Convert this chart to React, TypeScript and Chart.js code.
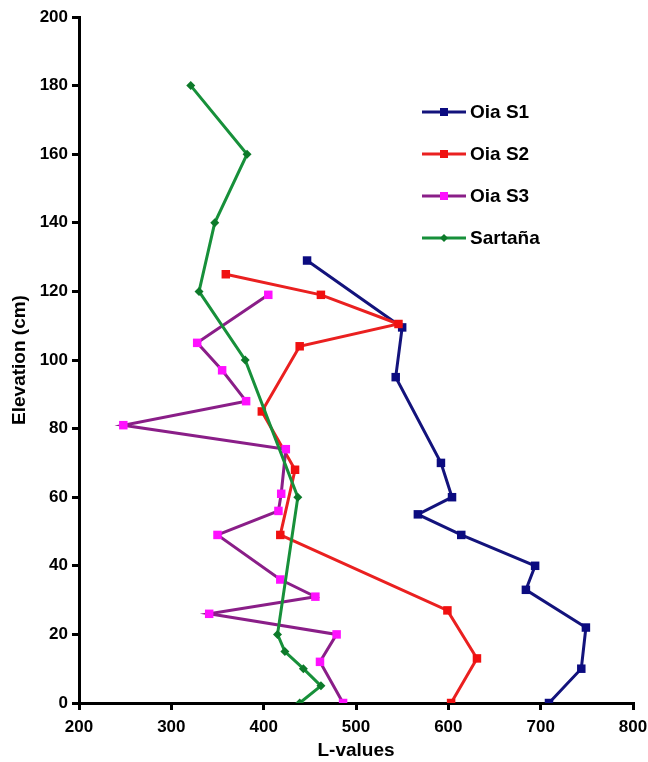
import React, { useEffect, useRef } from "react";
import { Chart, registerables } from "chart.js";

Chart.register(...registerables);

// ---- data ----
const seriesNames = ["Oia S1", "Oia S2", "Oia S3", "Sartaña"];

const s1L = [447, 550, 543, 592, 604, 567, 614, 694, 684, 749, 744, 709];
const s1E = [129, 109.5, 95, 70, 60, 55, 49, 40, 33, 22, 10, 0];

const s2L = [359, 462, 546, 439, 398, 434, 418, 599, 631, 603];
const s2E = [125, 119, 110.5, 104, 85, 68, 49, 27, 13, 0];

const s3L = [405, 328, 355, 381, 248, 424, 419, 416, 350, 418, 456, 341, 479, 461, 486];
const s3E = [119, 105, 97, 88, 81, 74, 61, 56, 49, 36, 31, 26, 20, 12, 0];

const sarL = [321, 382, 347, 330, 380, 437, 415, 423, 443, 462, 439];
const sarE = [180, 160, 140, 120, 100, 60, 20, 15, 10, 5, 0];

const xMin = 200, xMax = 800, xStep = 100;
const yMin = 0, yMax = 200, yStep = 20;

const FONT = "'Liberation Sans', Arial, sans-serif";

const toPts = (xs: number[], ys: number[]) => xs.map((x, i) => ({ x, y: ys[i] }));

const legendPlugin = {
  id: "customLegend",
  afterDraw(chart: any) {
    const { ctx, chartArea } = chart;
    const x0 = chartArea.right - 211;
    const y0 = chartArea.top + 95;
    const gap = 42;
    ctx.save();
    chart.data.datasets.forEach((ds: any, i: number) => {
      const y = y0 + i * gap;
      ctx.strokeStyle = ds.borderColor;
      ctx.lineWidth = 3;
      ctx.beginPath();
      ctx.moveTo(x0, y);
      ctx.lineTo(x0 + 44, y);
      ctx.stroke();
      ctx.fillStyle = ds.pointBackgroundColor;
      const cx = x0 + 22;
      if (ds.pointStyle === "rectRot") {
        const s = 4;
        ctx.beginPath();
        ctx.moveTo(cx, y - s);
        ctx.lineTo(cx + s, y);
        ctx.lineTo(cx, y + s);
        ctx.lineTo(cx - s, y);
        ctx.closePath();
        ctx.fill();
      } else {
        ctx.fillRect(cx - 4, y - 4, 8, 8);
      }
      ctx.fillStyle = "#000";
      ctx.font = `bold 19px ${FONT}`;
      ctx.textBaseline = "middle";
      ctx.textAlign = "left";
      ctx.fillText(ds.label, x0 + 48, y + 1);
    });
    ctx.restore();
  },
};

export default function App() {
  const ref = useRef<HTMLCanvasElement | null>(null);

  useEffect(() => {
    if (!ref.current) return;
    const mk = (label: string, pts: any[], line: string, fill: string, style: string, r: number, order: number) => ({
      label,
      data: pts,
      showLine: true,
      borderColor: line,
      backgroundColor: fill,
      pointBackgroundColor: fill,
      pointBorderColor: fill,
      pointBorderWidth: 0,
      pointStyle: style,
      pointRadius: r,
      borderWidth: 3,
      tension: 0,
      order,
    });
    const chart = new Chart(ref.current, {
      type: "scatter",
      data: {
        datasets: [
          mk(seriesNames[0], toPts(s1L, s1E), "#13137c", "#0b0b80", "rect", 6, 4),
          mk(seriesNames[1], toPts(s2L, s2E), "#ea2020", "#f01010", "rect", 6, 3),
          mk(seriesNames[2], toPts(s3L, s3E), "#8a1e88", "#ff10ff", "rect", 6, 2),
          mk(seriesNames[3], toPts(sarL, sarE), "#17903a", "#0d7a2a", "rectRot", 4.5, 1),
        ] as any,
      },
      options: {
        responsive: false,
        animation: false,
        layout: { autoPadding: false, padding: { top: 17, right: 15, left: 0, bottom: 0 } },
        plugins: { legend: { display: false }, tooltip: { enabled: false } },
        scales: {
          x: {
            type: "linear",
            min: xMin,
            max: xMax,
            ticks: {
              stepSize: xStep,
              color: "#000",
              font: { family: FONT, size: 17, weight: "bold" },
              padding: 7,
              maxRotation: 0,
            },
            grid: { display: true, drawOnChartArea: false, drawTicks: true, tickLength: 7, color: "#000", lineWidth: 3 },
            border: { display: true, color: "#000", width: 3 },
            title: {
              display: true,
              text: "L-values",
              color: "#000",
              font: { family: FONT, size: 19, weight: "bold" },
              padding: { top: 2, bottom: 0 },
            },
            afterFit: (s: any) => { s.height = 59; s.paddingLeft = 0; s.paddingRight = 0; },
          },
          y: {
            type: "linear",
            min: yMin,
            max: yMax,
            ticks: {
              stepSize: yStep,
              color: "#000",
              font: { family: FONT, size: 17, weight: "bold" },
              padding: 4,
            },
            grid: { display: true, drawOnChartArea: false, drawTicks: true, tickLength: 7, color: "#000", lineWidth: 3 },
            border: { display: true, color: "#000", width: 3 },
            title: {
              display: true,
              text: "Elevation (cm)",
              color: "#000",
              font: { family: FONT, size: 19, weight: "bold" },
              padding: { top: 8, bottom: 0 },
            },
            afterFit: (s: any) => { s.width = 79; s.paddingTop = 0; s.paddingBottom = 0; },
          },
        },
      } as any,
      plugins: [legendPlugin],
    });
    return () => chart.destroy();
  }, []);

  return (
    <div style={{ position: "fixed", left: 0, top: 0, width: 648, height: 762, background: "#fff" }}>
      <canvas ref={ref} width={648} height={762} style={{ width: 648, height: 762, display: "block" }} />
    </div>
  );
}
